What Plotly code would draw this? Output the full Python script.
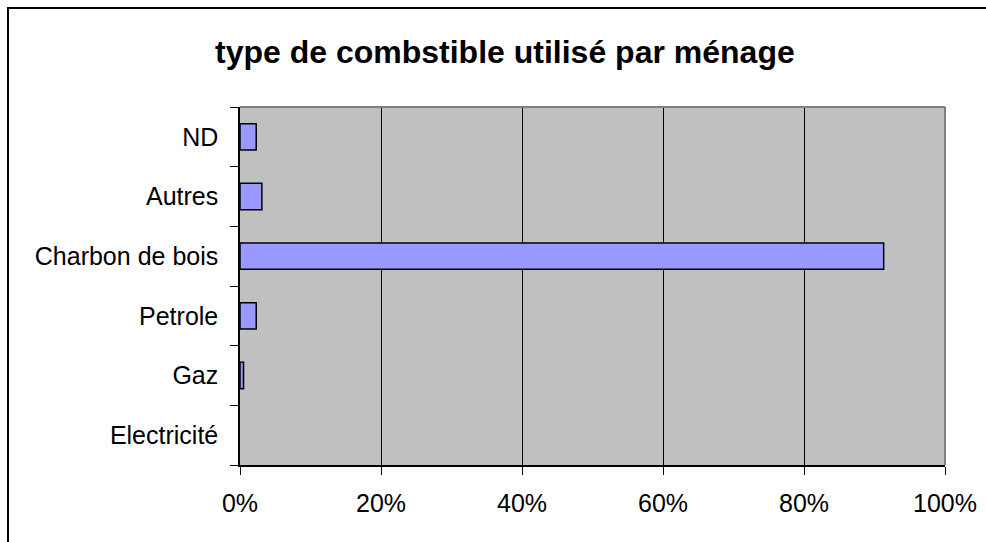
import plotly.graph_objects as go

W, H = 986, 542

# categories bottom -> top, share of households
categories = ["Electricité", "Gaz", "Petrole", "Charbon de bois", "Autres", "ND"]
shares = [0.0, 0.005, 0.023, 0.913, 0.031, 0.023]

x_ticks = [0, 0.2, 0.4, 0.6, 0.8, 1.0]
x_tick_labels = ["0%", "20%", "40%", "60%", "80%", "100%"]

# plot area in pixels (from the reference)
PL, PR, PT, PB = 240, 945, 107, 465

fig = go.Figure(
    go.Bar(
        y=categories,
        x=shares,
        orientation="h",
        marker=dict(
            color="#9999FF",
            # no outline for the empty bar, Excel draws nothing there
            line=dict(color="#000000", width=[0 if v == 0 else 1.5 for v in shares]),
        ),
        width=0.44,
        showlegend=False,
        hovertemplate="%{y}: %{x:.1%}<extra></extra>",
    )
)

font = dict(family="Liberation Sans, Arial", size=25, color="#000000")

fig.update_xaxes(
    domain=[PL / W, PR / W],
    range=[0, 1],
    tickvals=x_ticks,
    ticktext=x_tick_labels,
    showgrid=True,
    gridcolor="#000000",
    gridwidth=1,
    showline=True,
    linecolor="#000000",
    linewidth=1.5,
    ticks="outside",
    ticklen=8,
    tickcolor="#000000",
    ticklabelstandoff=7,
    zeroline=False,
    automargin=False,
    tickfont=font,
    fixedrange=True,
)
fig.update_yaxes(
    domain=[1 - PB / H, 1 - PT / H],
    type="category",
    categoryorder="array",
    categoryarray=categories,
    showline=True,
    linecolor="#000000",
    linewidth=1.5,
    ticks="outside",
    tickson="boundaries",
    ticklen=8,
    tickcolor="#000000",
    ticklabelstandoff=15,
    showgrid=False,
    automargin=False,
    tickfont=font,
    fixedrange=True,
)

# gray top/right border of the plot area
fig.add_shape(type="line", xref="x domain", yref="y domain", x0=0, x1=1, y0=1, y1=1,
              line=dict(color="#808080", width=2))
fig.add_shape(type="line", xref="x domain", yref="y domain", x0=1, x1=1, y0=0, y1=1,
              line=dict(color="#808080", width=2))
# outer chart border (bottom/right cut off in the reference)
fig.add_shape(type="rect", xref="paper", yref="paper",
              x0=8 / W, x1=1.05, y0=-0.05, y1=1 - 8 / H,
              line=dict(color="#000000", width=2), fillcolor="rgba(0,0,0,0)")

fig.add_annotation(
    text="<b>type de combstible utilisé par ménage</b>",
    xref="paper", yref="paper", x=505 / W, y=1 - 52 / H,
    xanchor="center", yanchor="middle", showarrow=False,
    font=dict(family="Liberation Sans, Arial", size=32, color="#000000"),
)

fig.update_layout(
    width=W,
    height=H,
    margin=dict(l=0, r=0, t=0, b=0),
    paper_bgcolor="#FFFFFF",
    plot_bgcolor="#C0C0C0",
    bargap=0.56,
)

# drop the browser's default body margin so the figure sits at (0, 0)
fig.write_html(
    "out.html",
    config={"displayModeBar": False},
    post_script="document.body.style.margin='0';",
)
